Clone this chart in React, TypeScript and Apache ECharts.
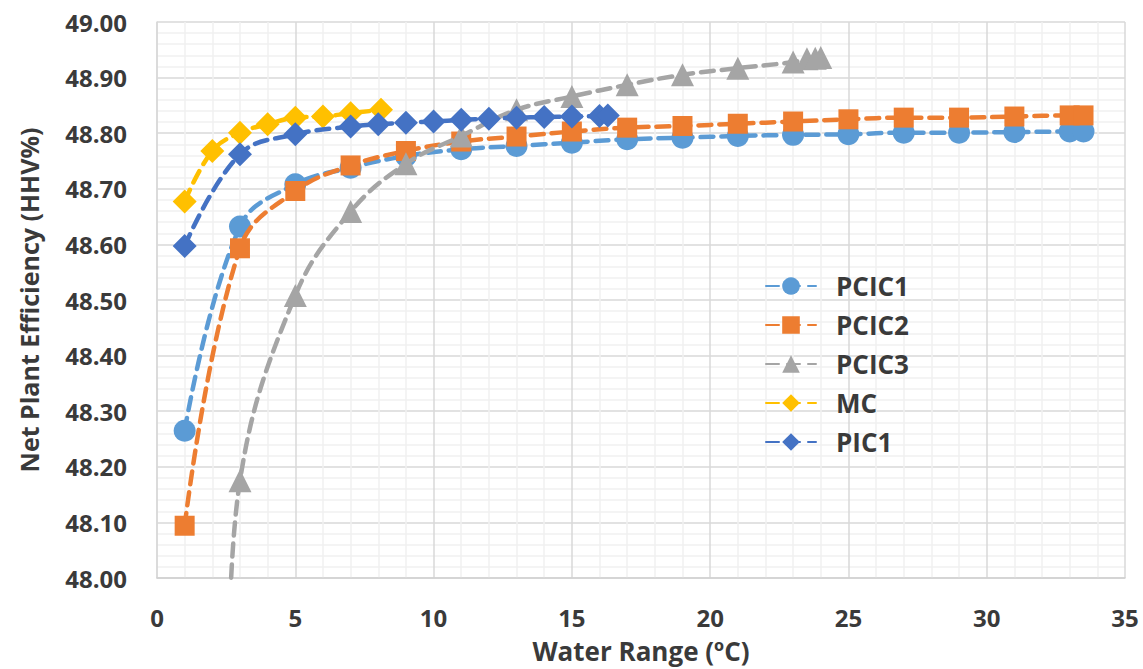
import React, { useEffect, useRef } from "react";
import * as echarts from "echarts";

const seriesNames = ["PCIC1", "PCIC2", "PCIC3", "MC", "PIC1"];
const colors = ["#5B9BD5", "#ED7D31", "#A5A5A5", "#FFC000", "#4472C4"];
const symbols = ["circle", "rect", "triangle", "diamond", "diamond"];
const symbolSizes = [22, 20, 23, 24, 24];

const pcic1X = [1, 3, 5, 7, 9, 11, 13, 15, 17, 19, 21, 23, 25, 27, 29, 31, 33, 33.5];
const pcic1Y = [48.265, 48.632, 48.708, 48.738, 48.759, 48.771, 48.777, 48.783, 48.789, 48.792, 48.795, 48.797, 48.798, 48.801, 48.801, 48.802, 48.803, 48.803];

const pcic2X = [1, 3, 5, 7, 9, 11, 13, 15, 17, 19, 21, 23, 25, 27, 29, 31, 33, 33.5];
const pcic2Y = [48.094, 48.593, 48.696, 48.742, 48.768, 48.785, 48.794, 48.803, 48.810, 48.813, 48.817, 48.821, 48.825, 48.828, 48.828, 48.830, 48.832, 48.832];

const pcic3X = [2.6, 3, 5, 7, 9, 11, 13, 15, 17, 19, 21, 23, 23.5, 23.8, 24.0];
const pcic3Y = [47.85, 48.175, 48.508, 48.659, 48.745, 48.795, 48.842, 48.866, 48.887, 48.905, 48.917, 48.928, 48.934, 48.935, 48.936];

const mcX = [1, 2, 3, 4, 5, 6, 7, 8.1];
const mcY = [48.677, 48.768, 48.801, 48.816, 48.828, 48.830, 48.836, 48.842];

const pic1X = [1, 3, 5, 7, 8, 9, 10, 11, 12, 13, 14, 15, 16, 16.3];
const pic1Y = [48.597, 48.762, 48.798, 48.812, 48.816, 48.819, 48.821, 48.824, 48.826, 48.828, 48.829, 48.830, 48.831, 48.832];

const xTicks = { min: 0, max: 35, interval: 5 };
const yTicks = { min: 48, max: 49, interval: 0.1 };

const allX = [pcic1X, pcic2X, pcic3X, mcX, pic1X];
const allY = [pcic1Y, pcic2Y, pcic3Y, mcY, pic1Y];

const FONT = "'Open Sans', 'DejaVu Sans', sans-serif";
const TEXT = "#3a3a3a";

export default function App() {
  const ref = useRef<HTMLDivElement>(null);
  useEffect(() => {
    if (!ref.current) return;
    const chart = echarts.init(ref.current, undefined, { renderer: "svg" });
    const series = seriesNames.map((name, i) => ({
      name,
      type: "line",
      smooth: 0.4,
      clip: true,
      symbol: symbols[i],
      symbolSize: symbolSizes[i],
      showAllSymbol: true,
      data: allX[i].map((x, k) => [x, allY[i][k]]),
      itemStyle: { color: colors[i], opacity: 1 },
      lineStyle: { color: colors[i], width: 4.5, type: [13, 8], cap: "round" },
      z: 2 + i,
    }));
    chart.setOption({
      animation: false,
      backgroundColor: "#ffffff",
      textStyle: { fontFamily: FONT },
      grid: { left: 157, right: 18, top: 22, bottom: 87, containLabel: false },
      legend: {
        orient: "vertical",
        left: 760,
        top: 268,
        itemWidth: 50,
        itemHeight: 22,
        itemGap: 13,
        textStyle: {
          fontFamily: FONT,
          fontSize: 26,
          fontWeight: "bold",
          color: TEXT,
          padding: [0, 0, 0, 15],
        },
        data: seriesNames,
      },
      xAxis: {
        type: "value",
        min: xTicks.min,
        max: xTicks.max,
        interval: xTicks.interval,
        name: "Water Range (ºC)",
        nameLocation: "middle",
        nameGap: 60,
        nameTextStyle: { fontFamily: FONT, fontSize: 26, fontWeight: "bold", color: TEXT, lineHeight: 26 },
        axisLine: { show: true, lineStyle: { color: "#d0d0d0", width: 1.5 } },
        axisTick: { show: false },
        axisLabel: { margin: 27, fontFamily: FONT, fontSize: 24, fontWeight: "bold", color: TEXT, lineHeight: 24 },
        splitLine: { show: true, lineStyle: { color: "#d9d9d9", width: 1.5 } },
        minorTick: { show: false, splitNumber: 5 },
        minorSplitLine: { show: true, lineStyle: { color: "#f0f0f0", width: 1.5 } },
      },
      yAxis: {
        type: "value",
        min: yTicks.min,
        max: yTicks.max,
        interval: yTicks.interval,
        name: "Net Plant Efficiency (HHV%)",
        nameLocation: "middle",
        nameGap: 116,
        nameTextStyle: { fontFamily: FONT, fontSize: 25, fontWeight: "bold", color: TEXT },
        axisLine: { show: true, lineStyle: { color: "#d9d9d9", width: 1.5 } },
        axisTick: { show: false },
        axisLabel: {
          margin: 30,
          fontFamily: FONT,
          fontSize: 24,
          fontWeight: "bold",
          color: TEXT,
          formatter: (v: number) => v.toFixed(2),
        },
        splitLine: { show: true, lineStyle: { color: "#d9d9d9", width: 1.5 } },
        minorTick: { show: false, splitNumber: 5 },
        minorSplitLine: { show: true, lineStyle: { color: "#f0f0f0", width: 1.5 } },
      },
      series,
    });
    return () => chart.dispose();
  }, []);
  return (
    <div
      ref={ref}
      style={{ position: "fixed", left: 0, top: 0, width: 1143, height: 669 }}
    />
  );
}
